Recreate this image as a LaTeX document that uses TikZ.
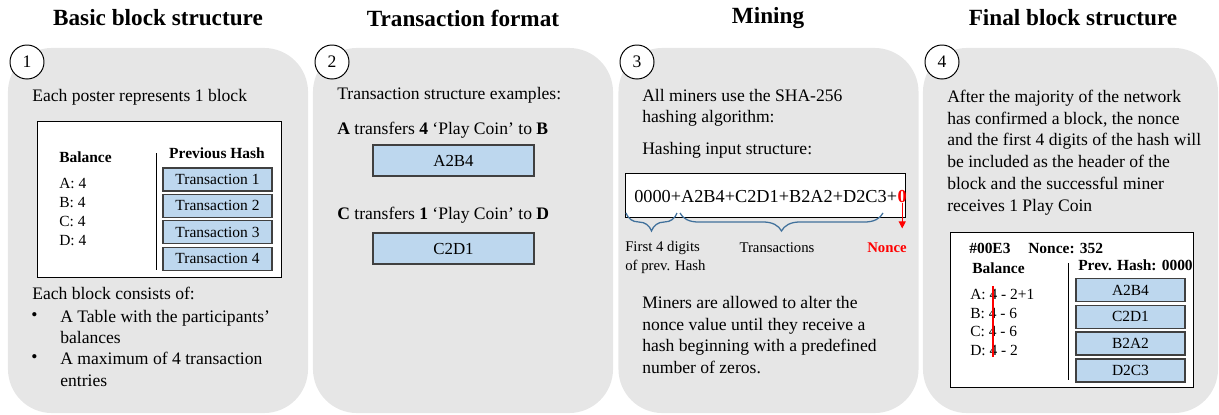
\documentclass[tikz,border=0pt]{standalone}
\usepackage{fontspec}
\setmainfont{Liberation Serif}
\usetikzlibrary{positioning, calc, decorations.pathreplacing, arrows.meta}
\definecolor{panelgray}{RGB}{230,230,230}
\definecolor{txblue}{RGB}{189,215,238}
\definecolor{bracecol}{RGB}{65,113,156}
\tikzstyle{panel} = [fill=panelgray, rounded corners=1.1cm, minimum width=7.5cm,
        minimum height=9.125cm, inner sep=0]
\tikzstyle{title} = [font=\fontsize{16.5}{20}\selectfont\bfseries]
\tikzstyle{num} = [draw, circle, fill=white, line width=0.7pt, minimum size=0.85cm,
        inner sep=0, font=\fontsize{12.5}{15}\selectfont]
\tikzstyle{body} = [anchor=west, align=left, inner sep=0,
        font=\fontsize{12.5}{15.5}\selectfont]
\tikzstyle{sheet} = [draw, fill=white, line width=0.7pt, inner sep=0]
\tikzstyle{tx} = [draw=black!75, fill=txblue, line width=0.9pt, minimum width=2.725cm,
        minimum height=0.575cm, inner sep=0, font=\fontsize{11}{13}\selectfont]
\tikzstyle{tbl} = [anchor=west, align=left, inner sep=0, font=\fontsize{11}{13.2}\selectfont]
\tikzset{brace/.style={draw=bracecol, line width=0.9pt,
        decorate, decoration={brace, mirror, amplitude=0.45cm}}}

\begin{document}
\begin{tikzpicture}[x=0.025cm, y=-0.025cm]
    \useasboundingbox (0,0) rectangle (1219,415);

    \node [title] (T1) at (158,18) {Basic block structure};
    \node [title] (T2) at (463,18) {Transaction format};
    \node [title] (T3) at (768,18) {Mining};
    \node [title] (T4) at (1073,18) {Final block structure};

    \node [panel] (P1) at (158,230.5) {};
    \node [panel] (P2) at (463,230.5) {};
    \node [panel] (P3) at (768.5,230.5) {};
    \node [panel, minimum width=7.375cm] (P4) at (1070.5,230.5) {};

    \node [num] (N1) at (27,62) {1};
    \node [num] (N2) at (332,62) {2};
    \node [num] (N3) at (637,62) {3};
    \node [num] (N4) at (942,62) {4};

    \node [body] (Intro1) at (32,97) {Each poster represents 1 block};
    \node [sheet, minimum width=6.075cm, minimum height=3.875cm] (Blk1) at (159.5,199.5) {};
    \node [tbl] (Bal1) at (59,157) {\textbf{Balance}};
    \node [tbl, font=\fontsize{11}{13.5}\selectfont] (Acc1) at (59,212) {A: 4\\B: 4\\C: 4\\D: 4};
    \draw [line width=0.7pt] (156,153) -- (156,270);
    \node [tbl, anchor=center] (Prev1) at (217,153) {\textbf{Previous Hash}};
    \node [tx] (Tx1) at (217.5,179.5) {Transaction 1};
    \node [tx, below of=Tx1, node distance=0.66cm] (Tx2) {Transaction 2};
    \node [tx, below of=Tx2, node distance=0.66cm] (Tx3) {Transaction 3};
    \node [tx, below of=Tx3, node distance=0.66cm] (Tx4) {Transaction 4};
    \node [body] (Cons1) at (32,293) {Each block consists of:};
    \node [body] (Dot1) at (31,317) {\textbullet};
    \node [body] (Item1) at (60,327) {A Table with the participants'\\balances};
    \node [body] (Dot2) at (31,359) {\textbullet};
    \node [body] (Item2) at (60,369.5) {A maximum of 4 transaction\\entries};

    \node [body] (Intro2) at (337,95) {Transaction structure examples:};
    \node [body] (Ex1) at (337,130) {\textbf{A} transfers \textbf{4} `Play Coin' to \textbf{B}};
    \node [tx, minimum width=4.025cm, minimum height=0.775cm,
        font=\fontsize{12}{14}\selectfont] (AB) at (453.5,160.5) {A2B4};
    \node [body] (Ex2) at (337,215) {\textbf{C} transfers \textbf{1} `Play Coin' to \textbf{D}};
    \node [tx, minimum width=4.025cm, minimum height=0.775cm,
        font=\fontsize{12}{14}\selectfont] (CD) at (453.5,248.5) {C2D1};

    \node [body, font=\fontsize{12.5}{14.8}\selectfont] (Intro3) at (642,108)
        {All miners use the SHA-256\\hashing algorithm:};
    \node [body] (Struct3) at (642,150) {Hashing input structure:};
    \node [sheet, minimum width=6.975cm, minimum height=1.1cm] (HashBox) at (765.5,195) {};
    \node [body, font=\fontsize{13}{15}\selectfont] (HashIn) at (634,197)
        {0000+A2B4+C2D1+B2A2+D2C3+};
    \node [anchor=base west, inner sep=0, text=red, font=\fontsize{13}{15}\selectfont\bfseries]
        (Zero) at (HashIn.base east) {0};
    \coordinate (B1a) at (626,213);
    \coordinate (B1b) at (677,213);
    \coordinate (B2a) at (680,213);
    \coordinate (B2b) at (883,213);
    \draw [brace] (B1a) -- (B1b);
    \draw [brace] (B2a) -- (B2b);
    \draw [-{Triangle[width=5pt,length=5pt]}, red, line width=0.8pt] (Zero.south) -- ++(0,25);
    \node [body, font=\fontsize{10.5}{13.5}\selectfont] (Dig3) at (625,257.5)
        {First 4 digits\\of prev. Hash};
    \node [font=\fontsize{10.5}{13.5}\selectfont, inner sep=0] (Trs3) at (777,248) {Transactions};
    \node [font=\fontsize{10.5}{13.5}\selectfont\bfseries, text=red, inner sep=0]
        (Nonce3) at (887,248) {Nonce};
    \node [body] (Alter3) at (642,335) {Miners are allowed to alter the\\nonce value until they receive a\\
        hash beginning with a predefined\\number of zeros.};

    \node [body] (Intro4) at (947,152.5) {After the majority of the network\\
        has confirmed a block, the nonce\\and the first 4 digits of the hash will\\
        be included as the header of the\\block and the successful miner\\receives 1 Play Coin};
    \node [sheet, minimum width=6.05cm, minimum height=3.85cm] (Blk4) at (1072,310) {};
    \node [tbl] (Head4) at (969,248) {\textbf{\#00E3}};
    \node [tbl] (Nnc4) at (1028,248) {\textbf{Nonce: 352}};
    \node [tbl] (Bal4) at (972,268) {\textbf{Balance}};
    \node [tbl, font=\fontsize{11}{13.1}\selectfont] (Acc4) at (970,322.5)
        {A: 4 - 2+1\\B: 4 - 6\\C: 4 - 6\\D: 4 - 2};
    \draw [red, line width=0.8pt] (993,286) -- (993,357);
    \draw [line width=0.7pt] (1068,263) -- (1068,380);
    \node [tbl] (Prev4) at (1078,265) {\textbf{Prev. Hash: 0000}};
    \node [tx] (F1) at (1130.5,290) {A2B4};
    \node [tx, below of=F1, node distance=0.67cm] (F2) {C2D1};
    \node [tx, below of=F2, node distance=0.67cm] (F3) {B2A2};
    \node [tx, below of=F3, node distance=0.67cm] (F4) {D2C3};
\end{tikzpicture}
\end{document}
